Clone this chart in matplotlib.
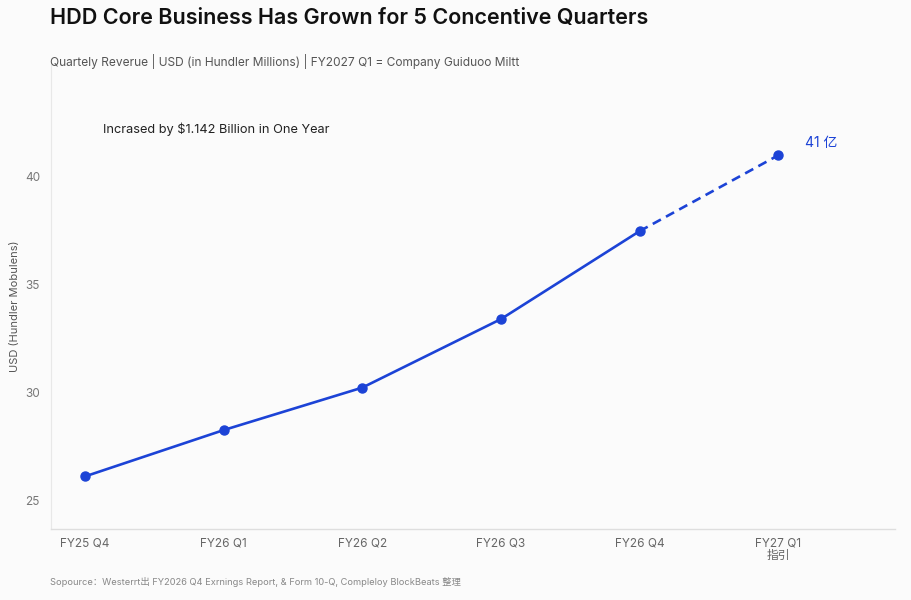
import matplotlib.pyplot as plt

plt.rcParams['font.family'] = ['Inter', 'Noto Sans CJK SC', 'DejaVu Sans']

quarters = ['FY25 Q4', 'FY26 Q1', 'FY26 Q2', 'FY26 Q3', 'FY26 Q4', 'FY27 Q1\n指引']
revenue = [26.1, 28.25, 30.22, 33.4, 37.48, 41.0]
y_ticks = [25, 30, 35, 40]

BLUE = '#1c43d6'


def main():
    fig = plt.figure(figsize=(9.12, 6), dpi=100, facecolor='#fbfbfb')
    ax = fig.add_axes([0.056, 0.118, 0.925, 0.774], facecolor='#fbfbfb')

    x = list(range(len(quarters)))

    # actual quarters solid, guidance dashed
    ax.plot(x[:5], revenue[:5], color=BLUE, lw=1.9, marker='o', ms=6.5, zorder=3)
    ax.plot(x[4:], revenue[4:], color=BLUE, lw=1.9, ls=(0, (3.5, 2.2)), zorder=2)
    ax.plot(x[5:], revenue[5:], color=BLUE, marker='o', ms=6.5, lw=0, zorder=3)

    ax.set_xlim(-0.245, 5.84)
    ax.set_ylim(23.65, 45.2)
    ax.set_xticks(x)
    ax.set_xticklabels(quarters, fontsize=8.5, color='#666', linespacing=1.0)
    ax.set_yticks(y_ticks)
    ax.set_yticklabels([str(v) for v in y_ticks], fontsize=8.5, color='#777')
    ax.tick_params(length=0, pad=8)
    ax.tick_params(axis='x', pad=6)

    for s in ['top', 'right']:
        ax.spines[s].set_visible(False)
    ax.spines['left'].set_color('#e8e8e8')
    ax.spines['bottom'].set_color('#dedede')
    ax.spines['left'].set_linewidth(0.8)
    ax.spines['bottom'].set_linewidth(1.0)

    # y label placed by hand so it sits inside the figure
    fig.text(0.016, 0.49, 'USD (Hundler Mobulens)', fontsize=8, color='#555',
             rotation=90, ha='center', va='center')

    ax.annotate('41 亿', (x[5], revenue[5]), xytext=(19, 9), textcoords='offset points',
                fontsize=10, color=BLUE, ha='left', va='center')

    fig.text(0.113, 0.785, 'Incrased by $1.142 Billion in One Year', fontsize=9.2,
             color='#222', va='center')

    fig.text(0.055, 0.97, 'HDD Core Business Has Grown for 5 Concentive Quarters',
             fontsize=15.5, weight='semibold', color='#111', va='center')
    fig.text(0.055, 0.897,
             'Quartely Reverue | USD (in Hundler Millions) | FY2027 Q1 = Company Guiduoo Miltt',
             fontsize=8.6, color='#555', va='center')
    fig.text(0.055, 0.03,
             'Sopource：Westerrt出 FY2026 Q4 Exrnings Report, & Form 10-Q, Compleloy BlockBeats 整理',
             fontsize=6.7, color='#888', va='center')

    fig.savefig('out.png', dpi=100, facecolor=fig.get_facecolor())


if __name__ == "__main__":
    main()
